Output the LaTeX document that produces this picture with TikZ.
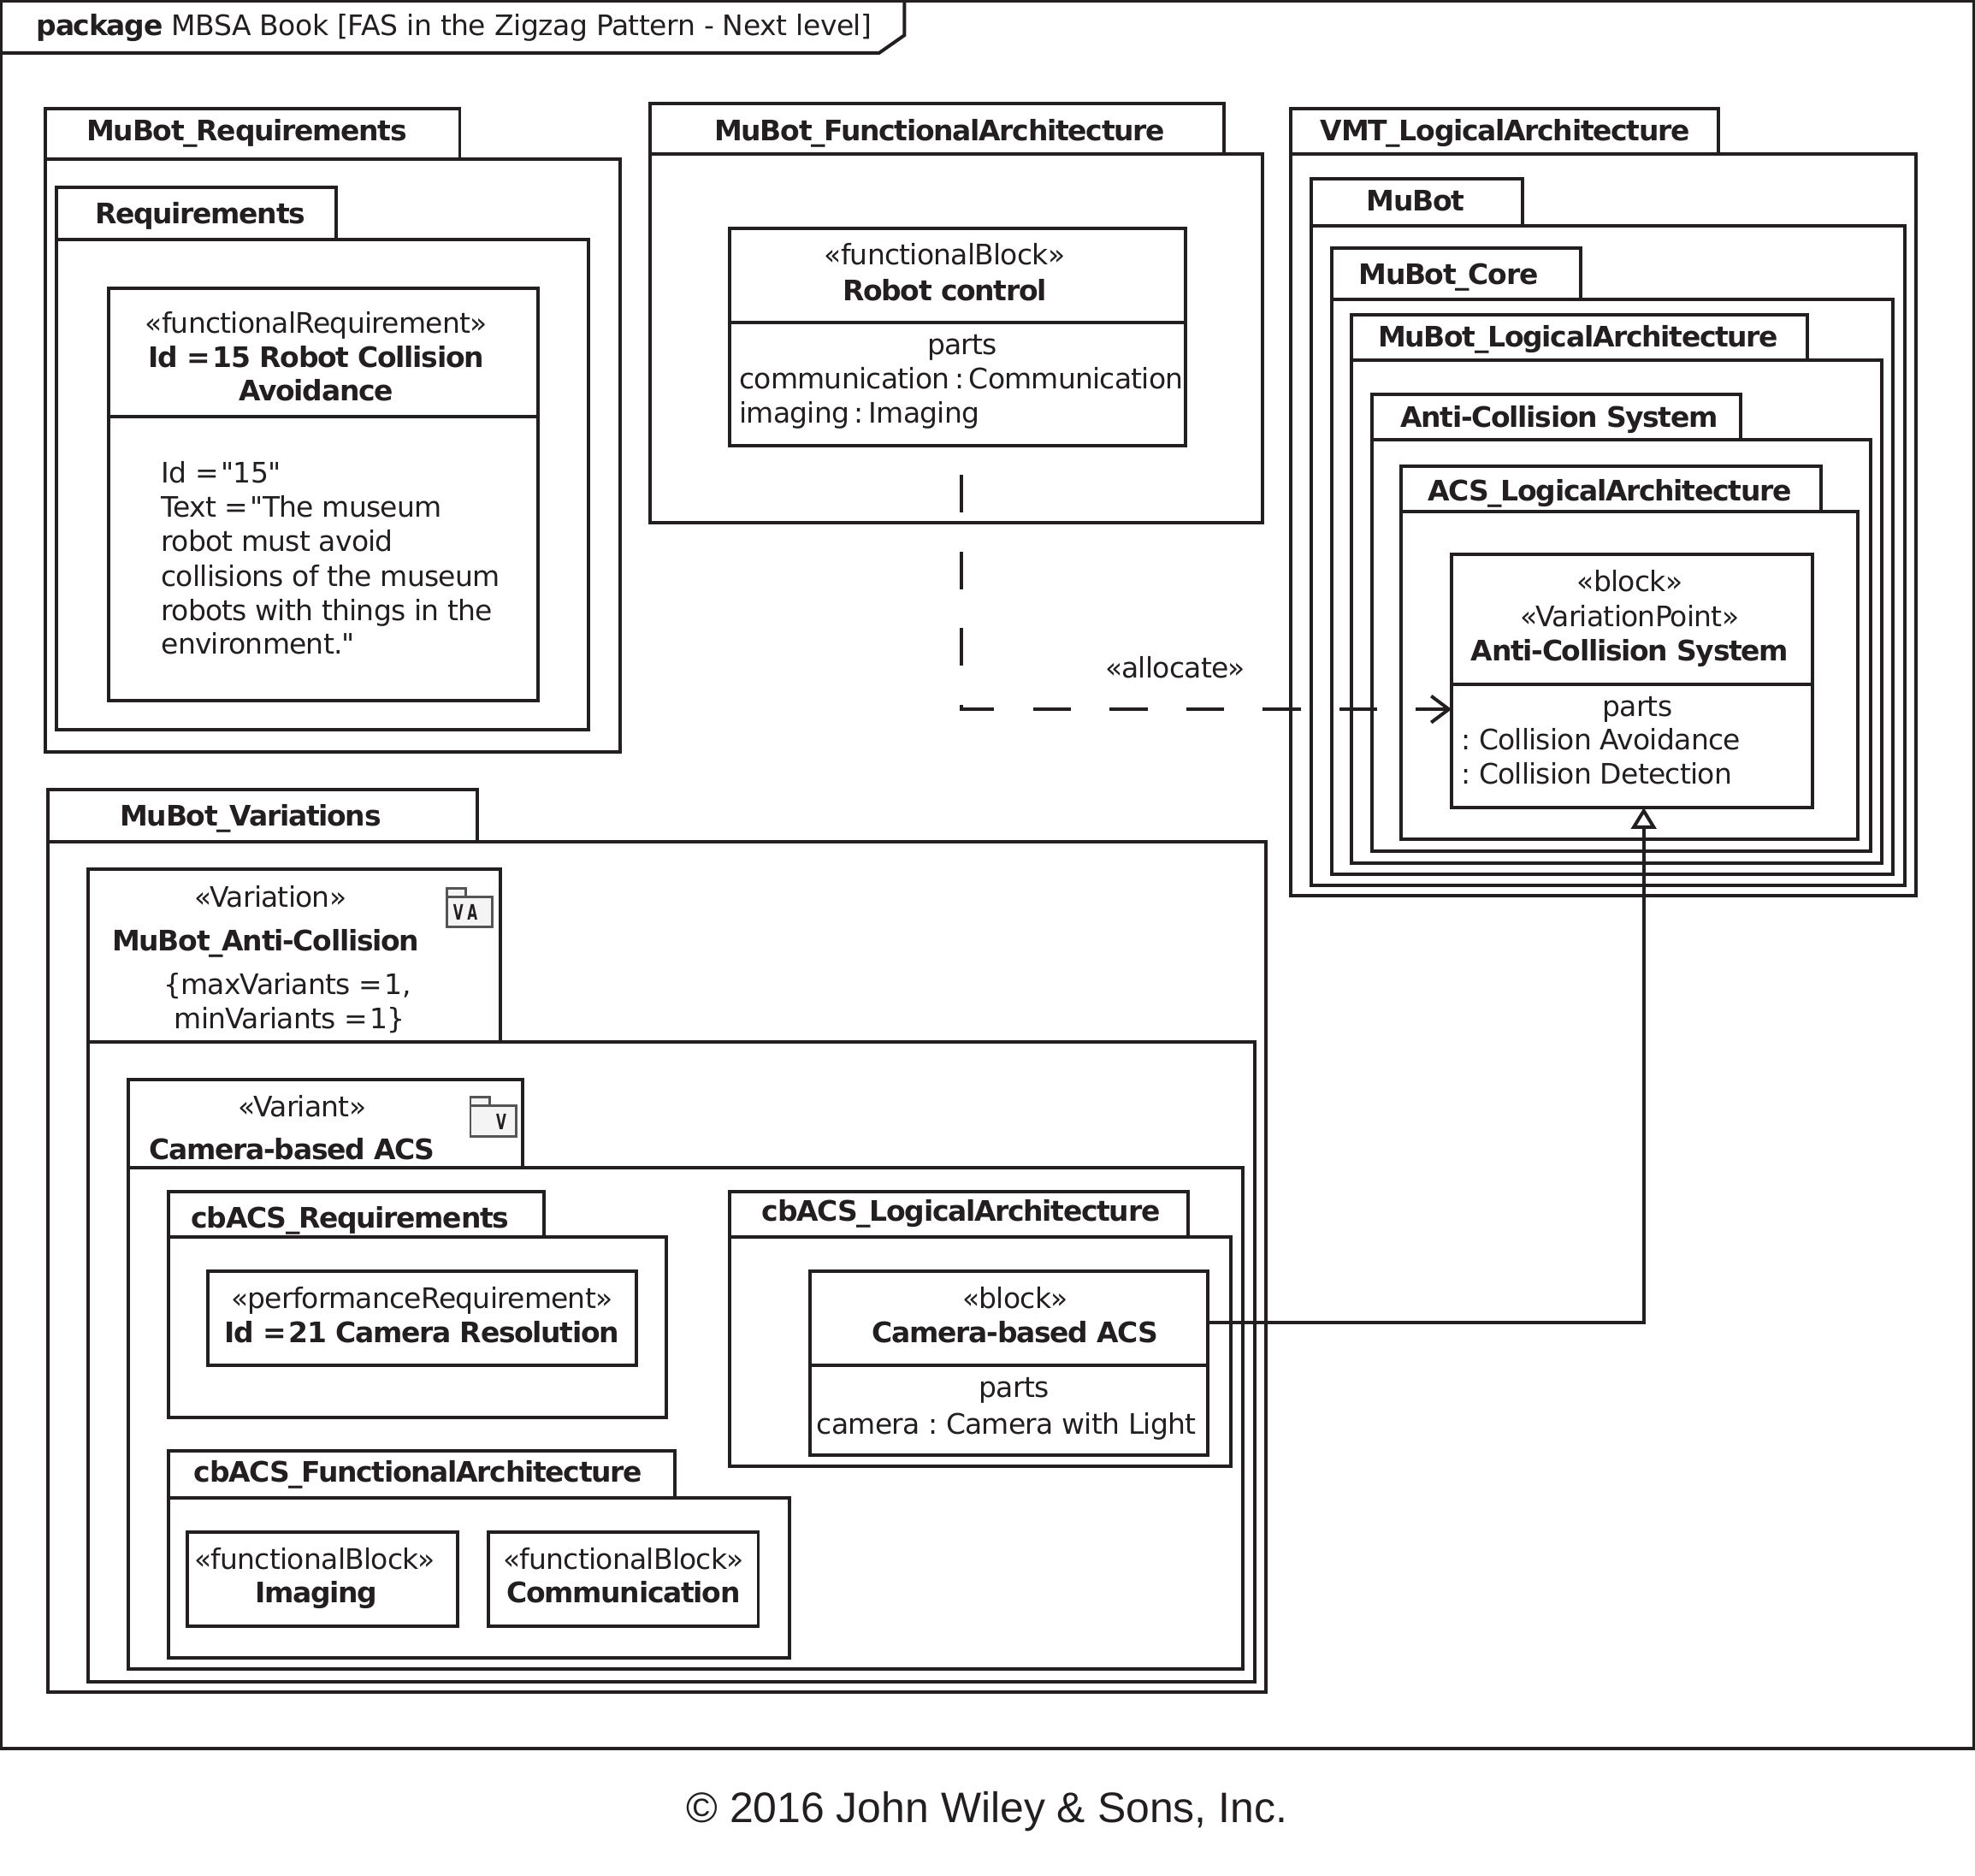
\documentclass[tikz,border=0pt]{standalone}
\usepackage{fontspec}
\usepackage{graphicx}
\setmainfont{DejaVu Sans}
\newfontfamily\reg[LetterSpace=-2.3]{DejaVu Sans}
\newfontfamily\hdr[LetterSpace=-1.4]{DejaVu Sans}
\newfontfamily\bld[LetterSpace=-4]{DejaVu Sans Bold}
\newfontfamily\copyfont{Liberation Sans}
\usetikzlibrary{fit,arrows.meta}
\newcommand\eqk{=\kern-2.4pt\ }
\tikzset{
  box/.style={draw=ink,line width=1.35pt,inner sep=0pt,outer sep=0pt,rectangle},
  txt/.style={inner sep=0pt,outer sep=0pt,anchor=mid,text=ink,yshift=-1pt,font=\fontsize{11.2}{13}\selectfont\reg\frenchspacing},
  txl/.style={txt,anchor=mid west},
  btxt/.style={txt,font=\fontsize{11.2}{13}\selectfont\bld\frenchspacing},
  ttl/.style={btxt},
  conn/.style={draw=ink,line width=1.35pt},
  iconbox/.style={draw=icongray,fill=iconfill,line width=1pt,inner sep=0pt,outer sep=0pt,rectangle},
  iconltr/.style={inner sep=0pt,outer sep=0pt,text=ink,font=\fontsize{6.5}{7}\selectfont\bld},
}
\definecolor{ink}{HTML}{231F20}
\definecolor{icongray}{HTML}{555555}
\definecolor{iconfill}{HTML}{F4F4F4}
% id, x1, tab top, tab right, tab bottom, body right, body bottom, label pos, label
\newcommand\pkgbox[9]{%
  \node[box,fit={(#2,#5)(#6,#7)}] (#1) {};
  \node[box,fit={(#2,#3)(#4,#5)}] (#1-tab) {};
  \node[ttl] (#1-label) at #8 {#9};
}
\newcommand\blockbox[5]{\node[box,fit={(#2,#3)(#4,#5)}] (#1) {};}
\newcommand\varicon[5]{%
  \node[iconbox,fit={(#2,#3)(#2+15.5,#3+8)}] (#1-a) {};
  \node[iconbox,fit={(#2,#3+7)(#2+36,#3+31)}] (#1-b) {};
  \node[iconltr] (#1-t) at (#2+#5,#3+19.5) {\scalebox{.8}[1.3]{#4}};
}
\begin{document}
\begin{tikzpicture}[x=0.5pt,y=-0.5pt]
\useasboundingbox (0,0) rectangle (1568,1489);
\fill[white] (0,0) rectangle (1568,1489);
% frame
\node[box,fit={(1,1)(1567,1388)}] (frame) {};
\draw[conn] (1,42) -- (698,42) -- (718,28) -- (718,1);
\node[txl,font=\fontsize{11.2}{13}\selectfont\hdr\frenchspacing] (frame-label) at (29,21) {{\bld package} MBSA Book [FAS in the Zigzag Pattern - Next level]};
% requirements
\pkgbox{mreq}{36}{86}{365}{126}{492}{597}{(196,104)}{MuBot\_Requirements}
\pkgbox{req}{45}{149}{267}{190}{467}{579}{(159,170)}{Requirements}
\blockbox{rblock}{86}{229}{427}{556}
\draw[conn] (rblock.west |- 0,331) -- (rblock.east |- 0,331);
\node[txt] (r1) at (251,257) {«functionalRequirement»};
\node[btxt] (r2) at (251,284) {Id \eqk15 Robot Collision};
\node[btxt] (r3) at (251,311) {Avoidance};
\node[txl] (r4) at (128,376) {Id \eqk"15"};
\node[txl] (r5) at (128,403) {Text \eqk"The museum};
\node[txl] (r6) at (128,430) {robot must avoid};
\node[txl] (r7) at (128,458) {collisions of the museum};
\node[txl] (r8) at (128,485) {robots with things in the};
\node[txl] (r9) at (128,512) {environment."};
% functional
\pkgbox{mfun}{516}{82}{972}{122}{1002}{415}{(746,104)}{MuBot\_FunctionalArchitecture}
\blockbox{fblock}{579}{181}{941}{354}
\draw[conn] (fblock.west |- 0,256) -- (fblock.east |- 0,256);
\node[txt] (f1) at (750,203) {«functionalBlock»};
\node[btxt] (f2) at (750,231) {Robot control};
\node[txt] (f3) at (764,274) {parts};
\node[txl] (f4) at (587,301) {communication\kern-1.4pt\ :\kern-1.4pt\ Communication};
\node[txl] (f5) at (587,328) {imaging\kern-1.4pt\ :\kern-1.4pt\ Imaging};
% logical
\pkgbox{vmt}{1025}{86}{1364}{122}{1521}{711}{(1195,104)}{VMT\_LogicalArchitecture}
\pkgbox{mubot}{1041}{142}{1209}{179}{1512}{703}{(1124,160)}{MuBot}
\pkgbox{core}{1057}{197}{1255}{238}{1503}{694}{(1150,218)}{MuBot\_Core}
\pkgbox{mlog}{1073}{250}{1435}{286}{1494}{685}{(1253,268)}{MuBot\_LogicalArchitecture}
\pkgbox{acsp}{1089}{313}{1382}{349}{1485}{676}{(1238,332)}{Anti-Collision System}
\pkgbox{acsl}{1112}{370}{1446}{406}{1475}{666}{(1278,390)}{ACS\_LogicalArchitecture}
\blockbox{ablock}{1152.5}{440}{1439}{641}
\draw[conn] (ablock.west |- 0,543) -- (ablock.east |- 0,543);
\node[txt] (a1) at (1294,462) {«block»};
\node[txt] (a2) at (1294,490) {«VariationPoint»};
\node[btxt] (a3) at (1294,517) {Anti-Collision System};
\node[txt] (a4) at (1300,561) {parts};
\node[txl] (a5) at (1160,588) {: Collision Avoidance};
\node[txl] (a6) at (1160,615) {: Collision Detection};
% variations
\pkgbox{mvar}{38}{627}{379}{668}{1005}{1343}{(199,648)}{MuBot\_Variations}
\pkgbox{var}{70}{690}{397}{827}{996}{1335}{(211,747)}{MuBot\_Anti-Collision}
\node[txt] (v1) at (215,713) {«Variation»};
\node[txt] (v2) at (228,782) {\{maxVariants \eqk1,};
\node[txt] (v3) at (230,809) {minVariants \eqk1\}};
\varicon{vicon}{354.5}{705}{V\hspace{2pt}A}{15}
\pkgbox{cam}{102}{857}{415}{927}{987}{1325}{(232,913)}{Camera-based ACS}
\node[txt] (c1) at (240,879) {«Variant»};
\varicon{cicon}{373.5}{871}{V}{24.5}
\pkgbox{creq}{134}{946}{432}{982}{529}{1125}{(278,967)}{cbACS\_Requirements}
\blockbox{pblock}{165}{1009}{505}{1084}
\node[txt] (p1) at (335,1031) {«performanceRequirement»};
\node[btxt] (p2) at (335,1058) {Id \eqk21 Camera Resolution};
\pkgbox{clog}{579}{946}{943}{982}{977}{1164}{(763,962)}{cbACS\_LogicalArchitecture}
\blockbox{cblock}{643}{1009}{959}{1155}
\draw[conn] (cblock.west |- 0,1084) -- (cblock.east |- 0,1084);
\node[txt] (b1) at (806,1031) {«block»};
\node[btxt] (b2) at (806,1058) {Camera-based ACS};
\node[txt] (b3) at (805,1102) {parts};
\node[txt] (b4) at (799,1131) {camera : Camera with Light};
\pkgbox{cfun}{134}{1152}{536}{1189}{627}{1316}{(332,1169)}{cbACS\_FunctionalArchitecture}
\blockbox{iblock}{149}{1216}{363}{1291}
\node[txt] (i1) at (250,1238) {«functionalBlock»};
\node[btxt] (i2) at (251,1265) {Imaging};
\blockbox{mblock}{388}{1216}{602}{1291}
\node[txt] (m1) at (495,1238) {«functionalBlock»};
\node[btxt] (m2) at (495,1265) {Communication};
% connectors
\coordinate (allocstart) at (763,377);
\coordinate (allocrow) at (0,563);
\coordinate (genrow) at (0,1050);
\coordinate (gencol) at (1305,0);
\draw[conn,dash pattern=on 15pt off 15.4pt,-{Straight Barb[length=7pt,width=10.5pt,line width=1.35pt,sep=0pt]}]
  (allocstart) |- (ablock.west |- allocrow);
\node[txt] (alloc) at (933,531) {«allocate»};
\draw[conn,-{Triangle[open,length=8.5pt,width=10pt,line width=1.35pt,fill=white]}]
  (cblock.east |- genrow) -| (gencol |- ablock.south);
\node[inner sep=0pt,text=ink,font=\fontsize{16.95}{20}\selectfont\copyfont] (copy) at (783.5,1438) {© 2016 John Wiley \& Sons, Inc.};
\end{tikzpicture}
\end{document}
